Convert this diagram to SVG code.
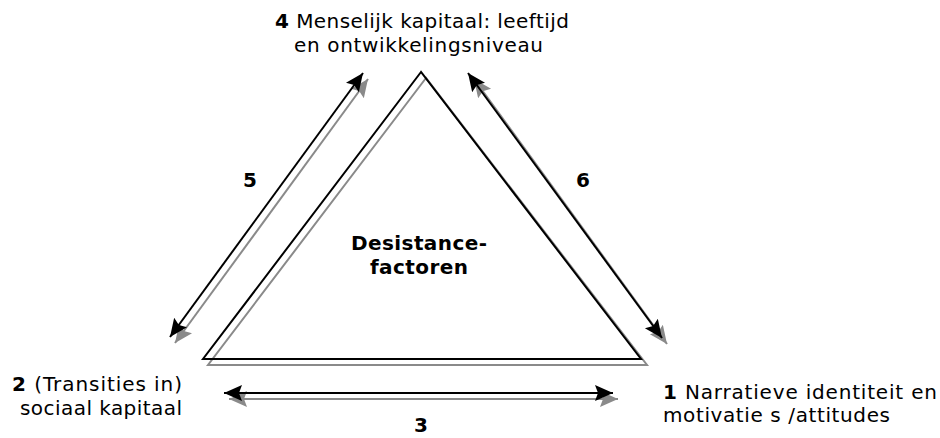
<svg xmlns="http://www.w3.org/2000/svg" width="940" height="438" viewBox="0 0 940 438">
<style>
  .lbl { font-family: "DejaVu Sans", Verdana, sans-serif; font-size: 20px; fill: #000; }
  .b { font-weight: bold; }
  .blk { stroke: #000; stroke-width: 2; fill: none; }
  .gry { stroke: #8a8a8a; stroke-width: 2; fill: none; }
  .ab { marker-start: url(#hb); marker-end: url(#hb); }
  .ag { marker-start: url(#hg); marker-end: url(#hg); }
</style>
<defs>
  <marker id="hb" markerUnits="userSpaceOnUse" markerWidth="19" markerHeight="17" refX="18" refY="8" orient="auto-start-reverse" viewBox="0 0 19 17">
    <path d="M0,0 L18,8 L0,16 L3,8 z" fill="#000"/>
  </marker>
  <marker id="hg" markerUnits="userSpaceOnUse" markerWidth="19" markerHeight="17" refX="18" refY="8" orient="auto-start-reverse" viewBox="0 0 19 17">
    <path d="M0,0 L18,8 L0,16 L3,8 z" fill="#8a8a8a"/>
  </marker>
</defs>
<rect width="940" height="438" fill="#fff"/>

<g id="desistance">
  <polygon class="gry" points="426,78 208,365 647,365"/>
  <polygon class="blk" points="421,72 203,359 641,359"/>
  <text class="lbl b" x="351" y="250" textLength="136" lengthAdjust="spacing">Desistance-</text>
  <text class="lbl b" x="370" y="274" textLength="98" lengthAdjust="spacing">factoren</text>
</g>

<g id="factor4">
  <text class="lbl" x="275" y="28" textLength="294" lengthAdjust="spacing"><tspan class="b">4</tspan> Menselijk kapitaal:  leeftijd</text>
  <text class="lbl" x="294" y="52" textLength="249" lengthAdjust="spacing">en ontwikkelingsniveau</text>
</g>

<g id="factor2">
  <text class="lbl" x="12" y="391" textLength="170" lengthAdjust="spacing"><tspan class="b">2</tspan> (Transities in)</text>
  <text class="lbl" x="20" y="415" textLength="162" lengthAdjust="spacing">sociaal kapitaal</text>
</g>

<g id="factor1">
  <text class="lbl" x="663" y="399" textLength="274" lengthAdjust="spacing"><tspan class="b">1</tspan>  Narratieve identiteit en</text>
  <text class="lbl" x="663" y="422" textLength="227" lengthAdjust="spacing">motivatie s /attitudes</text>
</g>

<g id="connectors">
  <g id="arrow5">
    <line class="gry ag" x1="175" y1="343" x2="368" y2="79"/>
    <line class="blk ab" x1="170" y1="337" x2="363" y2="73"/>
    <text class="lbl b" x="250" y="187" text-anchor="middle">5</text>
  </g>
  <g id="arrow6">
    <line class="gry ag" x1="474" y1="79" x2="667" y2="344"/>
    <line class="blk ab" x1="468" y1="73" x2="662" y2="338"/>
    <text class="lbl b" x="583" y="187" text-anchor="middle">6</text>
  </g>
  <g id="arrow3">
    <line class="gry ag" x1="229" y1="399" x2="618" y2="399"/>
    <line class="blk ab" x1="224" y1="393" x2="613" y2="393"/>
    <text class="lbl b" x="421" y="432" text-anchor="middle">3</text>
  </g>
</g>
</svg>
